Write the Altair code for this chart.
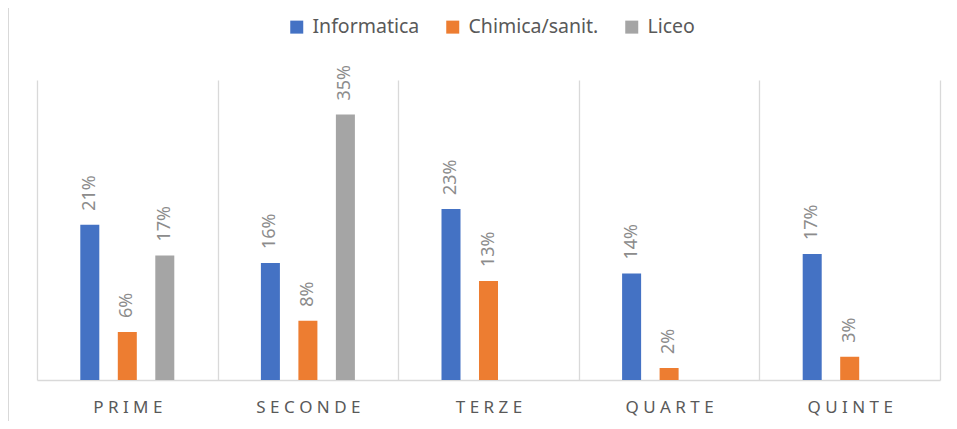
import altair as alt
import pandas as pd

categories = ["PRIME", "SECONDE", "TERZE", "QUARTE", "QUINTE"]
series = ["Informatica", "Chimica/sanit.", "Liceo"]
informatica = [0.207, 0.156, 0.228, 0.142, 0.168]
chimica = [0.064, 0.079, 0.132, 0.016, 0.031]
liceo = [0.166, 0.354, None, None, None]
colors = ["#4472c4", "#ed7d31", "#a5a5a5"]

rows = []
for i, c in enumerate(categories):
    label = " ".join(c)
    for s, vals in zip(series, [informatica, chimica, liceo]):
        if vals[i] is not None:
            rows.append({"cat": label, "serie": s, "val": vals[i]})
df = pd.DataFrame(rows)
cat_order = [" ".join(c) for c in categories]

FONT = "Noto Sans"

x = alt.X("cat:N", sort=cat_order, title=None,
          scale=alt.Scale(paddingInner=0, paddingOuter=0),
          axis=alt.Axis(labelAngle=0, labelFontSize=17, labelColor="#595959",
                        labelFont=FONT, labelPadding=19, ticks=False,
                        grid=True, tickBand="extent", gridColor="#d9d9d9",
                        gridWidth=1.3, domainColor="#d9d9d9", domainWidth=1.3))
xo = alt.XOffset("serie:N", sort=series,
                 scale=alt.Scale(paddingInner=0.493, paddingOuter=0, range=[43.3, 137.3]))
y = alt.Y("val:Q", scale=alt.Scale(domain=[0, 0.40]), axis=None)

bars = alt.Chart(df).mark_bar().encode(
    x=x, xOffset=xo, y=y,
    color=alt.Color("serie:N", sort=series,
                    scale=alt.Scale(domain=series, range=colors),
                    legend=alt.Legend(title=None, orient="none", legendX=250, legendY=-63,
                                      direction="horizontal", symbolType="square",
                                      symbolSize=169, symbolStrokeWidth=0,
                                      labelFontSize=19.5, labelColor="#595959",
                                      labelFont=FONT, labelOffset=6, columnPadding=23,
                                      padding=0))
)

labels = alt.Chart(df).mark_text(angle=270, align="left", baseline="middle",
                                 dx=14, fontSize=18, color="#8c8c8c", font=FONT).encode(
    x=x, xOffset=xo, y=y,
    text=alt.Text("val:Q", format=".0%")
)

border = alt.Chart(df).mark_rule(color="#d9d9d9", strokeWidth=1.3).encode(
    x=alt.value(-29), y=alt.value(-80), y2=alt.value(345)
)

chart = alt.layer(bars, labels, border).properties(
    width=903, height=300,
    autosize=alt.AutoSizeParams(type="none"),
    padding={"left": 29, "top": 72, "right": 9, "bottom": 41}
).configure(font=FONT).configure_view(stroke=None)

chart.save("out.html", embed_options={"renderer": "svg", "actions": False})
